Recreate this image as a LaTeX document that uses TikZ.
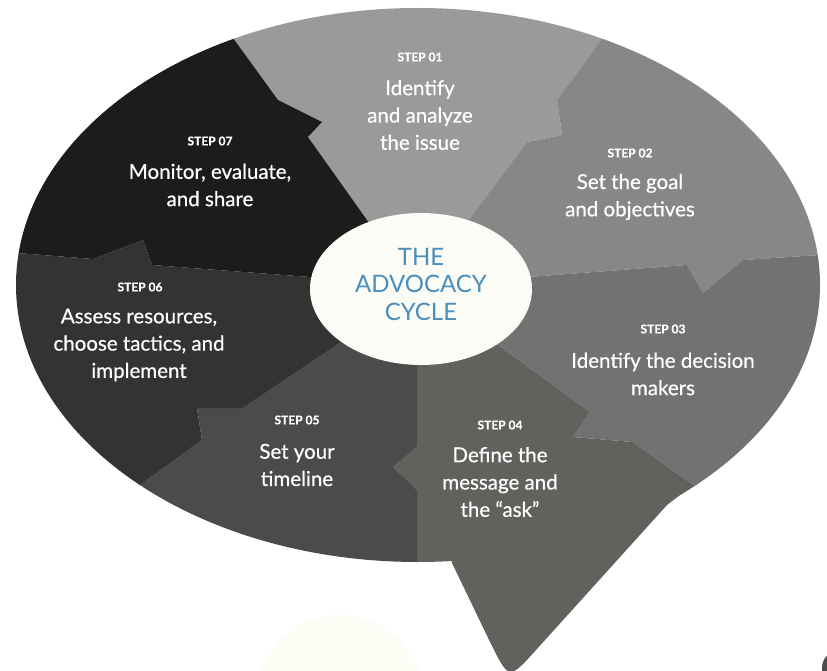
\documentclass[tikz,border=0pt]{standalone}
\usepackage{fontspec}
\setmainfont{Lato}
\newfontfamily\bodyfont{Lato}[FakeBold=0.6]
\definecolor{stepone}{HTML}{9A9A9A}
\definecolor{steptwo}{HTML}{878787}
\definecolor{stepthree}{HTML}{727272}
\definecolor{stepfour}{HTML}{5F625D}
\definecolor{stepfive}{HTML}{4B4B4B}
\definecolor{stepsix}{HTML}{333333}
\definecolor{stepseven}{HTML}{1C1C1C}
\definecolor{hubfill}{HTML}{FBFCF6}
\definecolor{hubtext}{HTML}{4A8EBB}
\definecolor{faintcream}{HTML}{FDFDF6}
\begin{document}
\begin{tikzpicture}[x=1pt,y=-1pt,
    steplabel/.style={text=white, font=\bodyfont\bfseries\fontsize{12}{14}\selectfont},
    stepbody/.style={text=white, align=center, font=\bodyfont\fontsize{20.5}{27.3}\selectfont},
    hubtitle/.style={text=hubtext, align=center, font=\fontsize{24}{27.5}\selectfont}]
\useasboundingbox[fill=white] (0,0) rectangle (827,671);
\fill[faintcream] (340,702) ellipse [x radius=85pt, y radius=87pt];
\fill[stepfive] (836,668) ellipse [x radius=14pt, y radius=16pt];
\begin{scope}
  \clip (418,285) ellipse [x radius=402pt, y radius=277pt];
  \fill[stepone] (421,289) -- (367,220) -- (308,137) -- (322,122) -- (278,100) -- (233,38) -- (190,-22)
    -- (640,-18) -- (602,39) -- (557,100) -- (562,135) -- (527,142) -- (470,218) -- cycle;
  \fill[steptwo] (421,289) -- (470,218) -- (527,142) -- (562,135) -- (557,100) -- (602,39) -- (640,-18)
    -- (900,-18) -- (900,252) -- (860,252) -- (820,255) -- (743,260) -- (703,293) -- (687,265) -- (528,277) -- cycle;
  \fill[stepthree] (421,289) -- (528,277) -- (687,265) -- (703,293) -- (743,260) -- (820,255) -- (860,252)
    -- (900,252) -- (900,560) -- (760,533) -- (693,485) -- (633,442) -- (573,437) -- (590,412) -- (498,345) -- cycle;
  \fill[stepfour] (421,289) -- (498,345) -- (590,412) -- (573,437) -- (633,442) -- (693,485) -- (760,533)
    -- (760,700) -- (417,700) -- (417,490) -- (393,467) -- (417,447) -- (417,362) -- cycle;
  \fill[stepfive] (421,289) -- (417,362) -- (417,447) -- (393,467) -- (417,490) -- (417,700)
    -- (60,700) -- (100,514) -- (140,485) -- (202,440) -- (197,408) -- (243,408) -- (337,345) -- cycle;
  \fill[stepsix] (421,289) -- (337,345) -- (243,408) -- (197,408) -- (202,440) -- (140,485) -- (100,514)
    -- (-20,514) -- (-20,250) -- (17,253) -- (93,259) -- (143,240) -- (152,265) -- (310,277) -- cycle;
  \fill[stepseven] (421,289) -- (310,277) -- (152,265) -- (143,240) -- (93,259) -- (17,253) -- (-20,250)
    -- (-20,-22) -- (190,-22) -- (233,38) -- (278,100) -- (322,122) -- (308,137) -- (367,220) -- cycle;
\end{scope}
\fill[stepfour] (455,540) -- (452,563) -- (491,644) .. controls (509,680) .. (536,650)
  -- (667,505) -- (693,485) -- (640,470) -- cycle;
\fill[hubfill] (421,289) ellipse [x radius=111pt, y radius=76pt];
\node[hubtitle] (hub) at (421,284) {THE\\ADVOCACY\\CYCLE};
\node[steplabel] (s01) at (420,57) {STEP 01};
\node[stepbody] (b01) at (420,115) {Identify\\and analyze\\the issue};
\node[steplabel] (s02) at (630,153) {STEP 02};
\node[stepbody] (b02) at (630,197) {Set the goal\\and objectives};
\node[steplabel] (s03) at (663,329) {STEP 03};
\node[stepbody] (b03) at (663,374) {Identify the decision\\makers};
\node[steplabel] (s04) at (500,425) {STEP 04};
\node[stepbody] (b04) at (500,482) {Define the\\message and\\the “ask”};
\node[steplabel] (s05) at (297,420) {STEP 05};
\node[stepbody] (b05) at (297,465) {Set your\\timeline};
\node[steplabel] (s06) at (140,287) {STEP 06};
\node[stepbody] (b06) at (139,345) {Assess resources,\\choose tactics, and\\implement};
\node[steplabel] (s07) at (210,141) {STEP 07};
\node[stepbody] (b07) at (210,185) {Monitor, evaluate,\\and share};
\end{tikzpicture}
\end{document}
